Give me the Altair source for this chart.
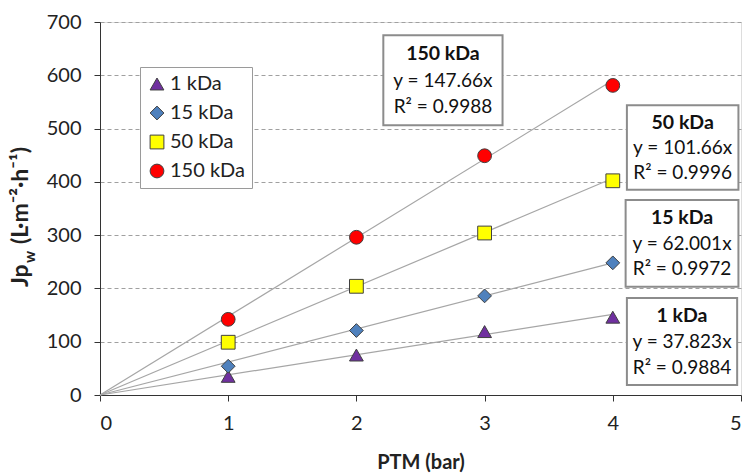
import altair as alt
import pandas as pd

# ---- data ----
series = ["1 kDa", "15 kDa", "50 kDa", "150 kDa"]
ptm = [1, 2, 3, 4]
jp_1 = [35, 75, 119, 146]
jp_15 = [54, 121, 186, 248]
jp_50 = [99, 204, 304, 402]
jp_150 = [142, 296, 449, 581]
slopes = [37.823, 62.001, 101.66, 147.66]
r2 = ["0.9884", "0.9972", "0.9996", "0.9988"]
eq_labels = ["y = 37.823x", "y = 62.001x", "y = 101.66x", "y = 147.66x"]

colors = ["#7030a0", "#4f81bd", "#ffff00", "#ff0000"]
shapes = ["triangle-up", "diamond", "square", "circle"]
FONT = "Lato"

rows = []
for s, vals in zip(series, [jp_1, jp_15, jp_50, jp_150]):
    for x, y in zip(ptm, vals):
        rows.append({"series": s, "x": x, "y": y})
pts = pd.DataFrame(rows)

lines = pd.DataFrame(
    [{"series": s, "x": 0, "y": 0} for s in series]
    + [{"series": s, "x": 4, "y": 4 * m} for s, m in zip(series, slopes)]
)

# annotation box layout (data coordinates)
box_x1 = [4.11, 4.10, 4.11, 2.21]
box_x2 = [4.97, 4.98, 4.98, 3.14]
box_y1 = [19, 203, 385, 506]
box_y2 = [182, 366, 544, 675]
boxes = pd.DataFrame({"x": box_x1, "x2": box_x2, "y": box_y1, "y2": box_y2})

bold_rows, norm_rows = [], []
for i, s in enumerate(series):
    cx = (box_x1[i] + box_x2[i]) / 2
    top = box_y2[i]
    h = box_y2[i] - box_y1[i]
    bold_rows.append({"x": cx, "y": top - h * 0.21, "t": s})
    norm_rows.append({"x": cx, "y": top - h * 0.51, "t": eq_labels[i]})
    norm_rows.append({"x": cx, "y": top - h * 0.80, "t": "R² = " + r2[i]})
bold_df = pd.DataFrame(bold_rows)
norm_df = pd.DataFrame(norm_rows)

xs = alt.Scale(domain=[0, 5])
ys = alt.Scale(domain=[0, 700])

X = alt.X("x:Q", scale=xs, axis=alt.Axis(
    values=[0, 1, 2, 3, 4, 5], format="d", title="PTM (bar)", grid=False,
    tickSize=6, labelFontSize=20, titleFontSize=20, titleFont=FONT,
    labelFont=FONT, titleFontWeight="bold", labelPadding=12, titlePadding=19,
    domainColor="#333", tickColor="#333", labelColor="#222", titleColor="#222"))
Y = alt.Y("y:Q", scale=ys, axis=alt.Axis(
    values=[0, 100, 200, 300, 400, 500, 600, 700], title=None, grid=True,
    gridDash=[4, 3], gridColor="#a0a0a0", tickSize=6,
    labelFontSize=20, labelFont=FONT, labelPadding=13,
    domainColor="#333", tickColor="#333", labelColor="#222"))

line_layer = alt.Chart(lines).mark_line(color="#a6a6a6", strokeWidth=1.2).encode(
    x=alt.X("x:Q", scale=xs), y=alt.Y("y:Q", scale=ys), detail="series:N")

point_layer = alt.Chart(pts).mark_point(
    filled=True, size=190, stroke="#404040", strokeWidth=1, opacity=1
).encode(
    x=X, y=Y,
    color=alt.Color("series:N", scale=alt.Scale(domain=series, range=colors),
                    legend=alt.Legend(
                        title=None, orient="none", legendX=40, legendY=45,
                        labelFontSize=20, labelFont=FONT, labelColor="#222",
                        symbolSize=190, symbolStrokeColor="#404040",
                        symbolStrokeWidth=1, rowPadding=9, padding=7,
                        strokeColor="#9a9a9a", fillColor="white",
                        labelOffset=3)),
    shape=alt.Shape("series:N", scale=alt.Scale(domain=series, range=shapes),
                    legend=None),
)

box_layer = alt.Chart(boxes).mark_rect(
    fill="white", stroke="#8c8c8c", strokeWidth=2
).encode(x=alt.X("x:Q", scale=xs), x2="x2:Q",
         y=alt.Y("y:Q", scale=ys), y2="y2:Q")

bold_layer = alt.Chart(bold_df).mark_text(
    fontSize=19.5, font=FONT, color="#111", baseline="middle", align="center",
    fontWeight="bold"
).encode(x=alt.X("x:Q", scale=xs), y=alt.Y("y:Q", scale=ys), text="t:N")

norm_layer = alt.Chart(norm_df).mark_text(
    fontSize=19, font=FONT, color="#111", baseline="middle", align="center"
).encode(x=alt.X("x:Q", scale=xs), y=alt.Y("y:Q", scale=ys), text="t:N")

# y-axis title with subscript
tdf = pd.DataFrame({"k": [0]})
yt1 = alt.Chart(tdf).mark_text(angle=270, align="left", baseline="alphabetic",
                               fontSize=23, fontWeight="bold", font=FONT,
                               color="#222", text="Jp").encode(
    x=alt.value(-72), y=alt.value(265))
yt2 = alt.Chart(tdf).mark_text(angle=270, align="left", baseline="alphabetic",
                               fontSize=15, fontWeight="bold", font=FONT,
                               color="#222", text="w").encode(
    x=alt.value(-65), y=alt.value(241))
yt3 = alt.Chart(tdf).mark_text(angle=270, align="left", baseline="alphabetic",
                               fontSize=23, fontWeight="bold", font=FONT,
                               color="#222", text="(L·m⁻²·h⁻¹)").encode(
    x=alt.value(-72), y=alt.value(222))

chart = alt.layer(
    line_layer, point_layer, box_layer, bold_layer, norm_layer, yt1, yt2, yt3
).properties(
    width=641, height=373,
    padding={"left": 100, "top": 22, "right": 6, "bottom": 79},
    autosize=alt.AutoSizeParams(type="none"),
).configure_view(stroke="#333", strokeWidth=1).configure(background="white")

chart.save("out.html", embed_options={"renderer": "svg", "actions": False})
